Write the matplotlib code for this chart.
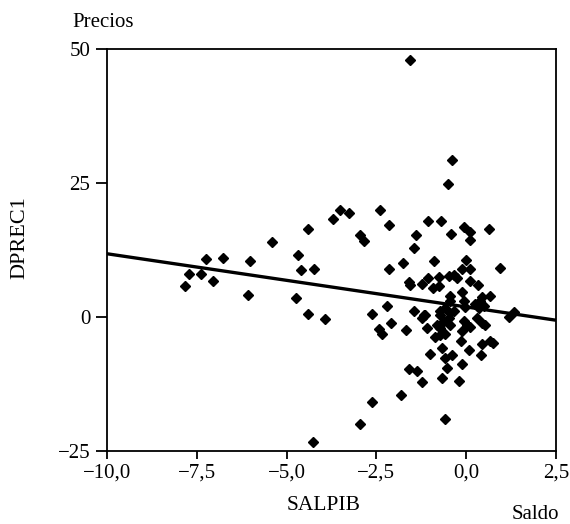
import matplotlib
matplotlib.use("Agg")
import matplotlib.pyplot as plt

plt.rcParams['font.family'] = ['Liberation Serif', 'DejaVu Serif']

# saldo / PIB (x) and variacion de precios (y)
salpib = [-1.56, -0.40, -0.51, -3.50, -3.27, -3.72, -2.39, -2.15, -4.41, -5.41,
          -2.95, -2.84, -1.06, -0.69, -1.41, -1.46, -0.42, -0.07, 0.12, 0.12,
          0.63, 0.95, -0.89, -1.76, -2.16, -4.68, -4.61, -4.25, -6.01, -6.76,
          -7.24, -7.73, -7.37, -7.06, -7.82, -6.07, -4.75, -4.39, -3.92, -2.62,
          -2.21, -2.08, -2.44, -2.34, -1.67, -1.44, -1.23, -1.18, -1.60, -1.56,
          -1.23, -1.05, -0.93, -0.75, -0.75, -0.49, -0.35, -0.26, -0.12, 0.10,
          -0.01, 0.12, 0.33, -0.12, -0.46, -0.46, 0.44, 0.65, -0.07, -0.02,
          0.25, 0.38, 0.35, 0.49, -0.72, -0.58, -0.44, -0.33, 1.32, 1.18,
          -1.14, -0.72, -0.63, -0.81, -0.72, -0.49, -0.44, -0.07, 0.02, 0.12,
          0.30, 0.44, 0.53, -1.09, -0.86, -0.72, -0.58, -0.12, -0.15, 0.44,
          0.65, 0.76, -0.67, 0.09, -1.00, -0.58, -0.40, 0.42, -0.53, -0.12,
          -1.60, -1.37, -1.23, -0.67, -0.21, -1.82, -2.62, -2.97, -4.27, -0.58]
dprec1 = [48.0, 29.2, 24.9, 20.0, 19.4, 18.2, 19.9, 17.1, 16.4, 14.0,
          15.3, 14.2, 17.9, 18.0, 15.3, 12.8, 15.4, 16.7, 15.8, 14.4,
          16.4, 9.2, 10.4, 10.1, 8.9, 11.6, 8.7, 9.0, 10.4, 11.1,
          10.8, 8.0, 8.0, 6.7, 5.8, 4.1, 3.6, 0.5, -0.3, 0.6,
          2.0, -1.2, -2.3, -3.2, -2.4, 1.1, -0.1, 0.4, 6.6, 6.0,
          6.2, 7.3, 5.5, 7.4, 5.8, 7.7, 7.9, 7.2, 8.9, 8.9,
          10.6, 6.7, 5.9, 4.7, 3.9, 3.0, 3.7, 3.9, 3.0, 1.9,
          2.4, 2.9, 1.7, 2.1, 1.1, 1.6, 0.8, 1.2, 1.0, 0.0,
          0.4, 0.4, -0.7, -1.4, -2.0, -0.1, -1.5, -0.7, -1.4, -1.9,
          -0.1, -1.1, -1.5, -2.1, -3.7, -3.4, -3.2, -2.6, -4.5, -5.1,
          -4.5, -4.8, -5.7, -6.1, -6.9, -7.6, -7.1, -7.0, -9.6, -8.7,
          -9.7, -10.1, -12.2, -11.4, -12.0, -14.5, -15.9, -20.0, -23.4, -19.0]

# regression line end points
fit_x = [-10.0, 2.5]
fit_y = [11.8, -0.6]

xticks = [-10.0, -7.5, -5.0, -2.5, 0.0, 2.5]
xticklabels = ['\u221210,0', '\u22127,5', '\u22125,0', '\u22122,5', '0,0', '2,5']
yticks = [-25, 0, 25, 50]
yticklabels = ['\u221225', '0', '25', '50']

fig = plt.figure(figsize=(5.7, 5.24), dpi=100)
ax = fig.add_axes([0.1877, 0.1393, 0.7877, 0.7672])

ax.plot(fit_x, fit_y, color='black', lw=2.4, solid_capstyle='butt')
ax.plot(salpib, dprec1, 'D', color='black', ms=4.8, mec='black')

ax.set_xlim(-10, 2.5)
ax.set_ylim(-25, 50)
ax.set_xticks(xticks)
ax.set_xticklabels(xticklabels)
ax.set_yticks(yticks)
ax.set_yticklabels(yticklabels)

for s in ax.spines.values():
    s.set_linewidth(1.3)
ax.tick_params(axis='x', direction='out', length=6, width=1.3, labelsize=15, pad=3)
ax.tick_params(axis='y', direction='out', length=8, width=1.3, labelsize=15, pad=4)

fig.text(0.181, 0.958, 'Precios', fontsize=15, ha='center', va='center')
fig.text(0.034, 0.546, 'DPREC1', fontsize=16, ha='center', va='center', rotation=90)
fig.text(0.567, 0.036, 'SALPIB', fontsize=15.5, ha='center', va='center')
fig.text(0.939, 0.019, 'Saldo', fontsize=15, ha='center', va='center')

fig.savefig('out.png', dpi=100)
